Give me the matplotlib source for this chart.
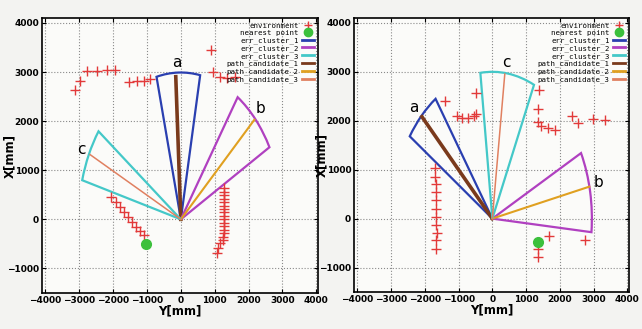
import numpy as np
import matplotlib
matplotlib.use("Agg")
import matplotlib.pyplot as plt
from matplotlib.patches import Wedge
from matplotlib.lines import Line2D

plt.rcParams["font.family"] = ["DejaVu Sans"]

# ---- data: left panel ----
L_env_y = [-3120, -2970, -2780, -2480, -2180, -1930,
           -1520, -1300, -1100, -900,
           880, 960, 1150, 1350, 1600,
           -2050, -1920, -1800, -1680, -1560, -1440, -1320, -1200, -1100,
           1280, 1280, 1280, 1280, 1280, 1280, 1280, 1280, 1270, 1270, 1270, 1270,
           1260, 1260, 1250, 1250, 1150, 1100, 1080]
L_env_x = [2635, 2824, 3014, 3027, 3040, 3040,
           2790, 2811, 2824, 2858,
           3446, 2993, 2892, 2878, 2892,
           459, 345, 243, 142, 41, -61, -149, -236, -318,
           630, 560, 490, 420, 350, 280, 210, 140, 70, 0, -70, -140,
           -210, -280, -350, -420, -473, -588, -689]
L_near = (-1030, -507)
L_theta1 = [79.0, 29.3, 143.6]     # err_cluster_1..3 start angle (deg)
L_theta2 = [103.9, 56.0, 164.7]    # end angle (deg)
L_radius = [2990, 3000, 3020]
L_path_end = [(-150, 2905), (2170, 2027), (-2680, 1318)]
L_tags = ["a", "b", "c"]
L_tag_pos = [(-130, 3200), (2350, 2250), (-2950, 1420)]

# ---- data: right panel ----
R_env_y = [-1408, -476, -1058, -893, -718, -553, -485,
           1388, 1359, 1359, 1456, 1660, 1854, 2359, 2524, 2971, 3350,
           -1700, -1690, -1680, -1680, -1670, -1670, -1660, -1660, -1650, -1660, -1660,
           1359, 1359, 1690, 2757]
R_env_x = [2405, 2577, 2096, 2062, 2062, 2096, 2144,
           2632, 2247, 1973, 1890, 1856, 1821, 2096, 1959, 2041, 2007,
           1031, 859, 701, 536, 378, 206, 34, -124, -289, -447, -619,
           -619, -777, -364, -433]
R_near = (1340, -481)
R_theta1 = [124.5, -5.4, 65.7]
R_theta2 = [145.5, 27.0, 96.8]
R_radius = [2970, 2950, 3000]
R_path_end = [(-2087, 2082), (2874, 653), (369, 2955)]
R_tags = ["a", "b", "c"]
R_tag_pos = [(-2320, 2270), (3150, 730), (420, 3200)]

cluster_colors = ["#2a3fb0", "#b040c0", "#44c8c8"]
path_colors = ["#7a3a1c", "#e0a020", "#e08060"]
path_widths = [2.6, 1.5, 1.1]
cluster_names = ["err_cluster_1", "err_cluster_2", "err_cluster_3"]
path_names = ["path_candidate_1", "path_candidate_2", "path_candidate_3"]


def draw_panel(ax, env_y, env_x, near, th1, th2, rad, path_end, tags, tag_pos):
    ax.set_facecolor("#fbfbf9")
    ax.plot(env_y, env_x, "+", color="#e23a3a", ms=7, mew=1.0, zorder=3)
    ax.plot(near[0], near[1], "o", color="#3cc03c", ms=7, zorder=4)
    for i in range(3):
        ax.add_patch(Wedge((0, 0), rad[i], th1[i], th2[i], fill=False,
                           edgecolor=cluster_colors[i], lw=1.6, zorder=2))
        ax.plot([0, path_end[i][0]], [0, path_end[i][1]],
                color=path_colors[i], lw=path_widths[i], zorder=2)
    for t, (px, py) in zip(tags, tag_pos):
        ax.text(px, py, t, fontsize=11, ha="center", va="center")

    ax.set_xlim(-4100, 4050)
    ax.set_ylim(-1500, 4100)
    ax.set_xticks(np.arange(-4000, 4001, 1000))
    ax.set_yticks(np.arange(-1000, 4001, 1000))
    ax.grid(True, linestyle=":", color="#8a8a8a", lw=0.8)
    ax.tick_params(direction="in", top=True, right=True, labelsize=6.5,
                   length=3, pad=2)
    for lab in ax.get_xticklabels() + ax.get_yticklabels():
        lab.set_fontweight("bold")
    ax.set_xlabel("Y[mm]", fontsize=8.5, fontweight="bold", labelpad=0)
    ax.set_ylabel("X[mm]", fontsize=8.5, fontweight="bold")
    ax.yaxis.set_label_coords(-0.095, 0.5)
    for s in ax.spines.values():
        s.set_linewidth(1.2)

    handles = [Line2D([], [], ls="none", marker="+", color="#e23a3a", ms=6),
               Line2D([], [], ls="none", marker="o", color="#3cc03c", ms=6)]
    handles += [Line2D([], [], color=c, lw=2) for c in cluster_colors]
    handles += [Line2D([], [], color=c, lw=2) for c in path_colors]
    labels = ["environment", "nearest point"] + cluster_names + path_names
    ax.legend(handles, labels, loc="upper right", frameon=False, markerfirst=False,
              handlelength=1.6, labelspacing=0.15, borderaxespad=0.2,
              handletextpad=0.4, prop={"family": "DejaVu Sans Mono", "size": 5.3})


fig = plt.figure(figsize=(6.42, 3.29), dpi=100, facecolor="#f3f3f1")
ax1 = fig.add_axes([42 / 642, 36 / 329, 276 / 642, 275 / 329])
ax2 = fig.add_axes([354 / 642, 37 / 329, 275 / 642, 274 / 329])

draw_panel(ax1, L_env_y, L_env_x, L_near, L_theta1, L_theta2, L_radius,
           L_path_end, L_tags, L_tag_pos)
draw_panel(ax2, R_env_y, R_env_x, R_near, R_theta1, R_theta2, R_radius,
           R_path_end, R_tags, R_tag_pos)

fig.savefig("out.png", dpi=100, facecolor=fig.get_facecolor())
